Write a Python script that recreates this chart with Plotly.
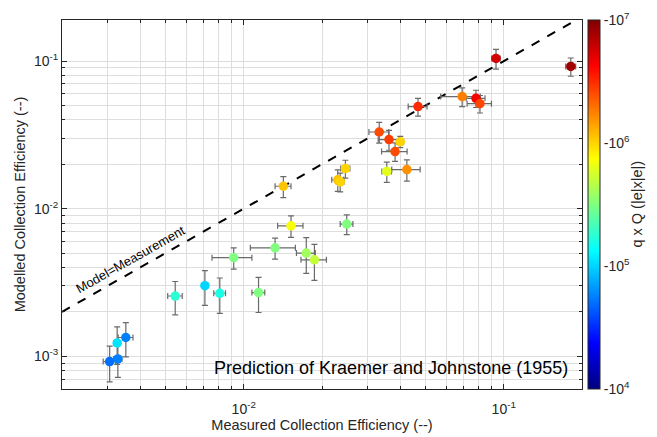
import numpy as np
import plotly.graph_objects as go

# ---- data ----
measured = [0.00305, 0.00328, 0.00326, 0.00352, 0.00545, 0.00709, 0.00809, 0.0114,
            0.00915, 0.0132, 0.0152, 0.0174, 0.0187, 0.0249, 0.0142, 0.0246,
            0.0230, 0.0235, 0.0468, 0.0332, 0.0362, 0.0400, 0.0382, 0.0355,
            0.0424, 0.0692, 0.0782, 0.0810, 0.0934, 0.1811]
modelled = [0.00092, 0.00096, 0.00123, 0.00134, 0.00256, 0.00301, 0.00267, 0.0027,
            0.00466, 0.00543, 0.00766, 0.0050, 0.0045, 0.00787, 0.0142, 0.0187,
            0.0157, 0.0152, 0.0492, 0.0331, 0.0294, 0.0284, 0.0244, 0.0179,
            0.0184, 0.0575, 0.0560, 0.0515, 0.1043, 0.0920]
measured_err = [0.00017, 0.00012, 0.0001, 0.00023, 0.00035, 0.0001, 0.00042, 0.00065,
                0.0016, 0.0026, 0.0017, 0.00145, 0.0021, 0.0014, 0.001, 0.001,
                0.0012, 0.0008, 0.0039, 0.0029, 0.0033, 0.0012, 0.0043, 0.0015,
                0.0053, 0.012, 0.0065, 0.0087, 0.0035, 0.008]
modelled_err = [0.00025, 0.00024, 0.00035, 0.00035, 0.00065, 0.0008, 0.00072, 0.00072,
                0.00076, 0.00088, 0.00127, 0.00136, 0.00123, 0.0012, 0.0023, 0.0026,
                0.0026, 0.0022, 0.0068, 0.0053, 0.0045, 0.0025, 0.0035, 0.0028,
                0.003, 0.0083, 0.0075, 0.007, 0.016, 0.013]
log_qQ = [4.7, 4.75, 5.05, 4.75, 5.25, 5.0, 5.2, 5.5,
          5.5, 5.5, 5.85, 5.6, 5.7, 5.5, 6.05, 6.0,
          6.05, 6.0, 6.5, 6.4, 6.45, 6.0, 6.4, 5.8,
          6.2, 6.25, 6.65, 6.42, 6.75, 6.9]

one_to_one = [0.002, 0.2]
x_tickvals = [0.01, 0.1]
x_ticktext = ["10<sup>-2</sup>", "10<sup>-1</sup>"]
y_tickvals = [0.001, 0.01, 0.1]
y_ticktext = ["10<sup>-3</sup>", "10<sup>-2</sup>", "10<sup>-1</sup>"]
cb_tickvals = [4, 5, 6, 7]
cb_ticktext = ["-10<sup>4</sup>", "-10<sup>5</sup>", "-10<sup>6</sup>", "-10<sup>7</sup>"]

x_minor = [m * 10.0 ** e for e in (-3, -2, -1) for m in range(2, 10)]
y_minor = [m * 10.0 ** e for e in (-4, -3, -2) for m in range(2, 10)]

jet = [[0.0, "rgb(0,0,128)"], [0.125, "rgb(0,0,255)"], [0.375, "rgb(0,255,255)"],
       [0.625, "rgb(255,255,0)"], [0.875, "rgb(255,0,0)"], [1.0, "rgb(128,0,0)"]]

axis_color = "#262626"
grid_color = "#dedede"
font_family = "Liberation Sans, Arial, sans-serif"

fig = go.Figure()

fig.add_trace(go.Scatter(
    x=one_to_one, y=one_to_one, mode="lines",
    line=dict(color="black", width=2, dash="dash"),
    showlegend=False, hoverinfo="skip"))

fig.add_trace(go.Scatter(
    x=measured, y=modelled, mode="markers",
    error_x=dict(type="data", array=measured_err, color="#6a6a6a", thickness=1.2, width=3),
    error_y=dict(type="data", array=modelled_err, color="#6a6a6a", thickness=1.2, width=3),
    marker=dict(size=9.5, color=log_qQ, colorscale=jet, cmin=4, cmax=7,
                line=dict(width=0),
                colorbar=dict(
                    x=1.011, xanchor="left", y=0.5, yanchor="middle",
                    len=1.0, lenmode="fraction", thickness=12,
                    outlinecolor=axis_color, outlinewidth=1,
                    tickmode="array", tickvals=cb_tickvals, ticktext=cb_ticktext,
                    ticks="", tickfont=dict(size=14, color=axis_color, family=font_family),
                    xpad=0, ypad=0)),
    showlegend=False))

fig.update_xaxes(
    type="log", range=[np.log10(0.002), np.log10(0.2)],
    tickmode="array", tickvals=x_tickvals, ticktext=x_ticktext,
    ticks="inside", ticklen=5, tickcolor=axis_color, ticklabelstandoff=7,
    showline=True, linecolor=axis_color, linewidth=1, mirror="ticks",
    showgrid=True, gridcolor=grid_color, gridwidth=1,
    minor=dict(tickmode="array", tickvals=x_minor, showgrid=True, gridcolor=grid_color,
               ticks="inside", ticklen=3, tickcolor=axis_color),
    tickfont=dict(size=14, color=axis_color, family=font_family),
    title=dict(text="Measured Collection Efficiency (--)",
               font=dict(size=14.5, color=axis_color, family=font_family), standoff=4),
    automargin=False, zeroline=False)

fig.update_yaxes(
    type="log", range=[np.log10(6e-4), np.log10(0.19)],
    tickmode="array", tickvals=y_tickvals, ticktext=y_ticktext,
    ticks="inside", ticklen=5, tickcolor=axis_color,
    showline=True, linecolor=axis_color, linewidth=1, mirror="ticks",
    showgrid=True, gridcolor=grid_color, gridwidth=1,
    minor=dict(tickmode="array", tickvals=y_minor, showgrid=True, gridcolor=grid_color,
               ticks="inside", ticklen=3, tickcolor=axis_color),
    tickfont=dict(size=14, color=axis_color, family=font_family),
    title=dict(text="Modelled Collection Efficiency (--)",
               font=dict(size=14.5, color=axis_color, family=font_family), standoff=4),
    automargin=False, zeroline=False)

fig.add_annotation(
    x=np.log10(0.00366), y=np.log10(0.00455), xref="x", yref="y",
    text="Model=Measurement", showarrow=False, textangle=-29.5,
    font=dict(size=13, color="black", family=font_family))

fig.add_annotation(
    x=0.977, y=0.057, xref="paper", yref="paper", xanchor="right", yanchor="middle",
    text="Prediction of Kraemer and Johnstone (1955)", showarrow=False,
    font=dict(size=18, color="black", family=font_family))

fig.add_annotation(
    x=1.104, y=0.5, xref="paper", yref="paper", xanchor="center", yanchor="middle",
    text="q x Q (|e|x|e|)", showarrow=False, textangle=-90,
    font=dict(size=14.5, color=axis_color, family=font_family))

# page body has an 8px default margin: size the figure so the plot lands where the reference has it
fig.update_layout(
    width=649, height=429,
    margin=dict(l=54, r=75, t=12, b=48),
    paper_bgcolor="white", plot_bgcolor="white",
    font=dict(family=font_family, color=axis_color))

fig.write_html("out.html")
